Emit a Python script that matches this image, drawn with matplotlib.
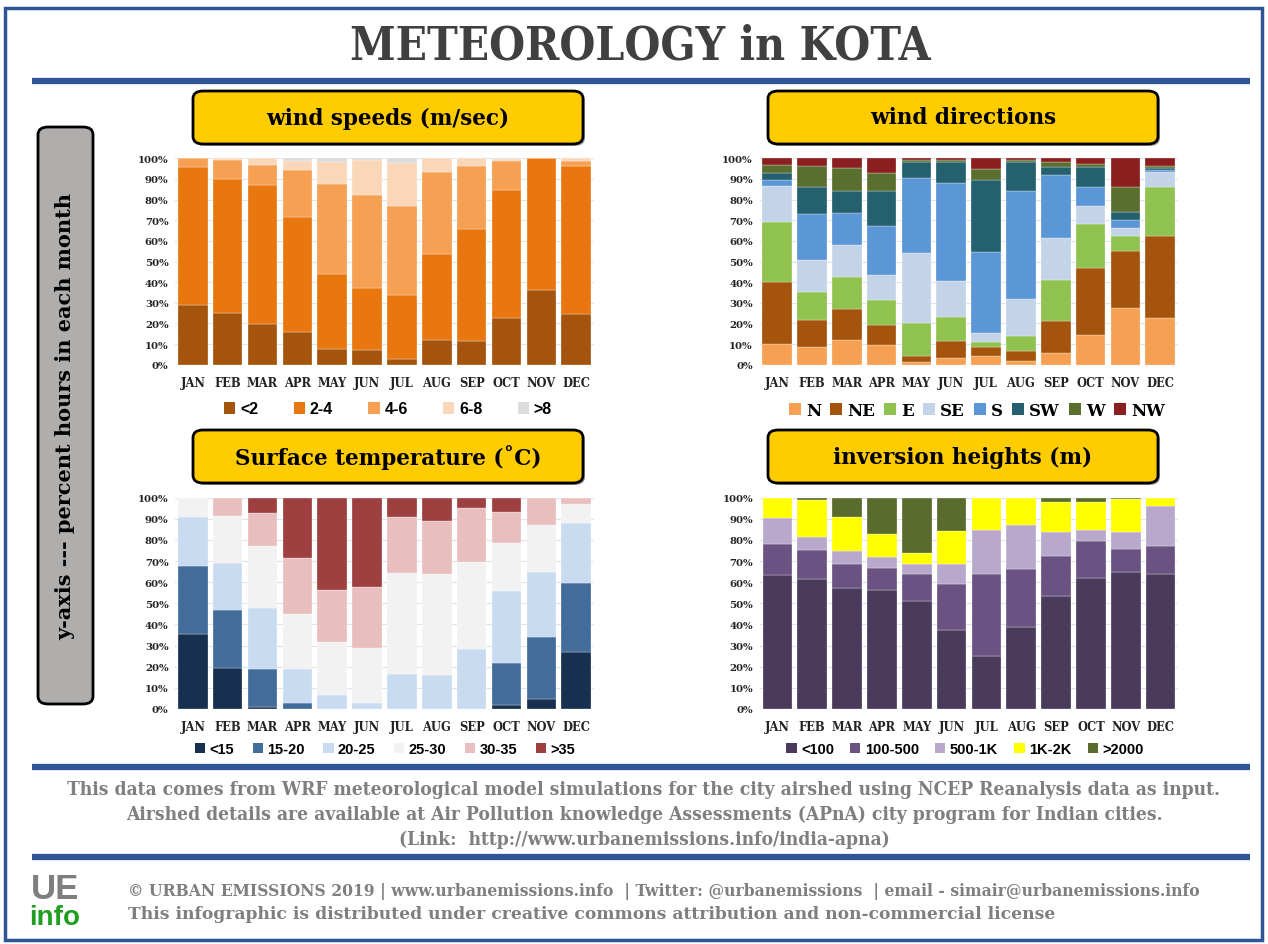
import numpy as np
import matplotlib
matplotlib.use("Agg")
import matplotlib.pyplot as plt
from matplotlib.patches import FancyBboxPatch, Rectangle, Patch
from matplotlib.lines import Line2D
from matplotlib.ticker import PercentFormatter

months = ["JAN", "FEB", "MAR", "APR", "MAY", "JUN", "JUL", "AUG", "SEP", "OCT", "NOV", "DEC"]

speed_labels = ["<2", "2-4", "4-6", "6-8", ">8"]
speed_lt2 = [29.0, 25.0, 19.7, 15.8, 7.6, 7.3, 2.6, 12.0, 11.6, 22.8, 36.3, 24.7]
speed_2_4 = [67.0, 65.0, 67.5, 55.8, 36.5, 29.7, 31.0, 41.6, 54.3, 61.7, 63.7, 71.6]
speed_4_6 = [4.0, 9.2, 9.6, 22.7, 43.3, 45.0, 43.3, 39.8, 30.4, 14.0, 0.0, 2.6]
speed_6_8 = [0.0, 0.8, 3.2, 4.4, 10.6, 17.4, 20.8, 6.6, 3.7, 1.0, 0.0, 1.1]
speed_gt8 = [0.0, 0.0, 0.0, 1.3, 2.0, 0.6, 2.3, 0.0, 0.0, 0.5, 0.0, 0.0]

dir_labels = ["N", "NE", "E", "SE", "S", "SW", "W", "NW"]
dir_N = [10.2, 8.4, 12.0, 9.4, 1.1, 3.1, 4.0, 1.8, 5.5, 14.2, 27.3, 22.6]
dir_NE = [30.0, 13.4, 15.0, 10.0, 3.3, 8.5, 4.4, 4.8, 15.8, 32.6, 28.0, 39.8]
dir_E = [28.8, 13.3, 15.5, 12.1, 15.8, 11.7, 2.7, 7.1, 19.7, 21.5, 6.9, 23.5]
dir_SE = [17.7, 15.6, 15.3, 11.8, 33.9, 17.4, 4.2, 18.1, 20.4, 8.4, 4.0, 7.3]
dir_S = [2.8, 22.2, 15.5, 24.1, 36.2, 47.2, 39.1, 52.2, 30.4, 9.6, 3.8, 1.3]
dir_SW = [3.5, 13.4, 10.7, 16.6, 7.7, 10.1, 35.1, 14.4, 4.2, 9.7, 3.8, 1.0]
dir_W = [3.8, 10.1, 11.3, 8.9, 1.0, 1.0, 5.3, 0.6, 2.0, 1.1, 12.1, 0.6]
dir_NW = [3.2, 3.6, 4.7, 7.1, 1.0, 1.0, 5.2, 1.0, 2.0, 2.9, 14.1, 3.9]

temp_labels = ["<15", "15-20", "20-25", "25-30", "30-35", ">35"]
temp_lt15 = [35.3, 19.4, 0.9, 0.0, 0.0, 0.0, 0.0, 0.0, 0.0, 1.9, 4.6, 27.1]
temp_15_20 = [32.2, 27.6, 18.2, 2.7, 0.0, 0.0, 0.0, 0.0, 0.0, 20.0, 29.6, 32.7]
temp_20_25 = [23.5, 22.2, 28.9, 16.4, 6.5, 2.7, 16.6, 16.2, 28.5, 34.1, 30.8, 28.4]
temp_25_30 = [9.0, 22.3, 29.0, 26.0, 25.4, 26.0, 47.8, 47.8, 40.9, 22.5, 22.1, 9.0]
temp_30_35 = [0.0, 8.5, 15.9, 26.4, 24.3, 28.9, 26.5, 25.1, 25.9, 14.7, 12.9, 2.8]
temp_gt35 = [0.0, 0.0, 7.1, 28.5, 43.8, 42.4, 9.1, 10.9, 4.7, 6.8, 0.0, 0.0]

inv_labels = ["<100", "100-500", "500-1K", "1K-2K", ">2000"]
inv_lt100 = [63.2, 61.5, 57.3, 56.5, 51.1, 37.5, 25.2, 39.0, 53.6, 62.1, 64.8, 63.7]
inv_100_500 = [14.7, 13.7, 11.3, 10.2, 12.6, 21.5, 38.5, 27.1, 19.0, 17.2, 10.9, 13.6]
inv_500_1k = [12.6, 6.3, 6.4, 5.2, 4.9, 9.6, 21.0, 21.1, 11.0, 5.2, 8.0, 18.9]
inv_1k_2k = [9.5, 17.5, 15.9, 10.9, 5.1, 15.8, 15.3, 12.8, 14.2, 13.6, 15.7, 3.8]
inv_gt2000 = [0.0, 1.0, 9.1, 17.2, 26.3, 15.6, 0.0, 0.0, 2.2, 1.9, 0.6, 0.0]

speed_colors = ["#A5540D", "#E8770F", "#F5A052", "#FAD7B8", "#DCDCDC"]
dir_colors = ["#F5A052", "#A5540D", "#8FC24E", "#C3D3E8", "#5B96D6", "#25606F", "#5A6E2E", "#8B1E1E"]
temp_colors = ["#17304F", "#426C9A", "#C9DBF0", "#F2F2F2", "#E8BEBF", "#9E4040"]
inv_colors = ["#4A3A5C", "#6A5382", "#B8A8CC", "#FFFF00", "#5A6B2E"]

W, H = 1268, 945
fig = plt.figure(figsize=(W / 100, H / 100), dpi=100)
fig.patch.set_facecolor("white")

def fx(x):
    return x / W

def fy(y):
    return 1 - y / H

SERIF = "DejaVu Serif"
SANS = "Liberation Sans"

def add_axes_px(l, r, t, b):
    return fig.add_axes([fx(l), fy(b), fx(r) - fx(l), fy(t) - fy(b)])

def stacked(ax, series, colors, labels):
    x = np.arange(len(months))
    bottom = np.zeros(len(months))
    for vals, c, lab in zip(series, colors, labels):
        v = np.array(vals)
        ax.bar(x, v, width=0.85, bottom=bottom, color=c, edgecolor="#FFFFFF",
               linewidth=0.2, label=lab, zorder=2)
        bottom += v
    ax.set_xlim(-0.5, 11.5)
    ax.set_ylim(0, 100)
    ax.set_yticks(np.arange(0, 101, 10))
    ax.yaxis.set_major_formatter(PercentFormatter(decimals=0))
    ax.yaxis.grid(True, color="#DCE4F0", linewidth=0.8, zorder=0)
    ax.set_axisbelow(True)
    ax.set_xticks(x)
    ax.set_xticklabels(months)
    for s in ax.spines.values():
        s.set_visible(False)
    ax.tick_params(length=0, pad=8)
    ax.tick_params(axis="y", pad=5)
    for t in ax.get_yticklabels():
        t.set_fontfamily(SERIF)
        t.set_fontweight("bold")
        t.set_fontsize(7.3)
        t.set_color("#222222")
    for t in ax.get_xticklabels():
        t.set_fontfamily(SERIF)
        t.set_fontweight("bold")
        t.set_fontsize(8.3)
        t.set_color("#222222")

def legend_px(labels, colors, cx, cy, family, size, spacing):
    handles = [Patch(facecolor=c, edgecolor="none") for c in colors]
    fig.legend(handles, labels, loc="center", bbox_to_anchor=(fx(cx), fy(cy)),
               ncol=len(labels), frameon=False, handlelength=0.7, handleheight=0.7,
               handletextpad=0.3, columnspacing=spacing,
               prop={"family": family, "weight": "bold", "size": size})

ax1 = add_axes_px(175.4, 593.6, 159.3, 365.7)
stacked(ax1, [speed_lt2, speed_2_4, speed_4_6, speed_6_8, speed_gt8], speed_colors, speed_labels)
ax2 = add_axes_px(759.7, 1177.6, 159.3, 365.7)
stacked(ax2, [dir_N, dir_NE, dir_E, dir_SE, dir_S, dir_SW, dir_W, dir_NW], dir_colors, dir_labels)
ax3 = add_axes_px(175.4, 593.6, 498.7, 710)
stacked(ax3, [temp_lt15, temp_15_20, temp_20_25, temp_25_30, temp_30_35, temp_gt35], temp_colors, temp_labels)
ax4 = add_axes_px(760, 1178, 498.7, 710)
stacked(ax4, [inv_lt100, inv_100_500, inv_500_1k, inv_1k_2k, inv_gt2000], inv_colors, inv_labels)

legend_px(speed_labels, speed_colors, 388, 410, SANS, 11.5, 2.22)
legend_px(dir_labels, dir_colors, 977, 411, SERIF, 12, 0.57)
legend_px(temp_labels, temp_colors, 385, 750, SANS, 10.5, 1.27)
legend_px(inv_labels, inv_colors, 965, 750, SANS, 10.5, 1.12)

# frame and decoration
fig.add_artist(Rectangle((fx(5), fy(941)), fx(1262) - fx(5), fy(9) - fy(941),
                         transform=fig.transFigure, fill=False, edgecolor="#2F5597", linewidth=2.5))
for yy in [82, 768, 858]:
    fig.add_artist(Line2D([fx(32), fx(1250)], [fy(yy), fy(yy)], transform=fig.transFigure,
                          color="#2F5597", linewidth=4.5, solid_capstyle="butt"))

fig.text(fx(640), fy(47), "METEOROLOGY in KOTA", ha="center", va="center",
         fontfamily=SERIF, fontstretch="condensed", fontweight="bold", fontsize=33, color="#404040")

def yellow_box(l, r, t, b, text):
    sh = FancyBboxPatch((fx(l + 2), fy(b + 2)), fx(r) - fx(l), fy(t) - fy(b),
                        boxstyle="round,pad=0,rounding_size=0.008", transform=fig.transFigure,
                        facecolor="#555555", edgecolor="none", alpha=0.5)
    fig.add_artist(sh)
    bx = FancyBboxPatch((fx(l), fy(b)), fx(r) - fx(l), fy(t) - fy(b),
                        boxstyle="round,pad=0,rounding_size=0.008", transform=fig.transFigure,
                        facecolor="#FFCC00", edgecolor="black", linewidth=2)
    fig.add_artist(bx)
    fig.text(fx((l + r) / 2), fy((t + b) / 2), text, ha="center", va="center",
             fontfamily=SERIF, fontweight="bold", fontsize=15.5, color="black")

yellow_box(193, 583, 92, 145, "wind speeds (m/sec)")
yellow_box(768, 1158, 92, 145, "wind directions")
yellow_box(193, 583, 431, 484, "Surface temperature (\u02daC)")
yellow_box(768, 1158, 431, 484, "inversion heights (m)")

gb = FancyBboxPatch((fx(38), fy(705)), fx(93) - fx(38), fy(128) - fy(705),
                    boxstyle="round,pad=0,rounding_size=0.008", transform=fig.transFigure,
                    facecolor="#B0ADAD", edgecolor="black", linewidth=2)
fig.add_artist(gb)
fig.text(fx(65.5), fy(416), "y-axis --- percent hours in each month", rotation=90,
         ha="center", va="center", fontfamily=SERIF, fontweight="bold", fontsize=15, color="black")

grey = "#7F7F7F"
lines = ["This data comes from WRF meteorological model simulations for the city airshed using NCEP Reanalysis data as input.",
         "Airshed details are available at Air Pollution knowledge Assessments (APnA) city program for Indian cities.",
         "(Link:  http://www.urbanemissions.info/india-apna)"]
for i, ln in enumerate(lines):
    fig.text(fx(644), fy(790 + 25 * i), ln, ha="center", va="center", fontfamily=SERIF,
             fontstretch="condensed", fontweight="bold", fontsize=13.8, color=grey)

fig.text(fx(55), fy(890), "UE", ha="center", va="center", fontfamily=SANS, fontweight="bold",
         fontsize=25, color=grey)
fig.text(fx(55), fy(918), "info", ha="center", va="center", fontfamily=SANS, fontweight="bold",
         fontsize=20, color="#1F9E1F")
fig.text(fx(128), fy(892), "\u00a9 URBAN EMISSIONS 2019 | www.urbanemissions.info  | Twitter: @urbanemissions  | email - simair@urbanemissions.info",
         ha="left", va="center", fontfamily=SERIF, fontstretch="condensed", fontweight="bold", fontsize=12.5, color=grey)
fig.text(fx(128), fy(915), "This infographic is distributed under creative commons attribution and non-commercial license",
         ha="left", va="center", fontfamily=SERIF, fontweight="bold", fontsize=12.3, color=grey)

fig.savefig("out.png", dpi=100)
